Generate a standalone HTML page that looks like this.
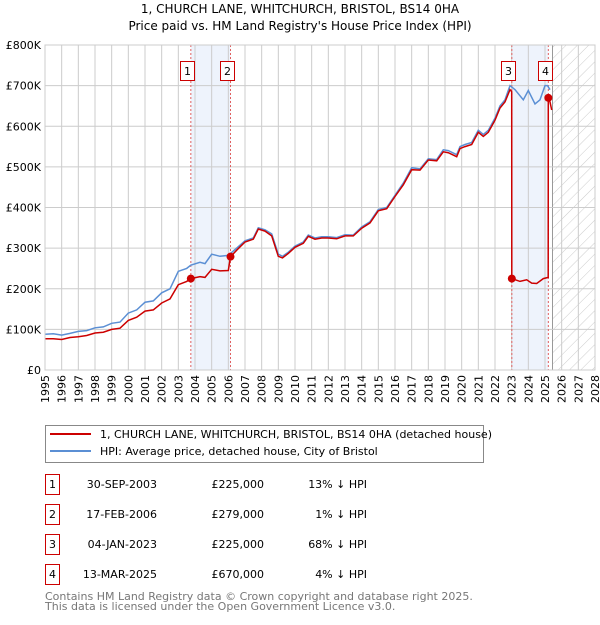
<!DOCTYPE html>
<html><head><meta charset="utf-8"><style>
body{margin:0;background:#fff;width:600px;height:620px;overflow:hidden;font-family:"Liberation Sans","DejaVu Sans",sans-serif}
svg text{font-family:"DejaVu Sans","Liberation Sans",sans-serif}
</style></head><body>
<svg id="c" width="600" height="620" xmlns="http://www.w3.org/2000/svg">
<defs><pattern id="hatch" width="8" height="8" patternUnits="userSpaceOnUse" patternTransform="rotate(45)"><line x1="0" y1="0" x2="0" y2="8" stroke="#ccc" stroke-width="1"/></pattern></defs>
<text x="300" y="13" text-anchor="middle" font-size="12">1, CHURCH LANE, WHITCHURCH, BRISTOL, BS14 0HA</text>
<text x="300" y="30" text-anchor="middle" font-size="12">Price paid vs. HM Land Registry's House Price Index (HPI)</text>
<g id="plot"></g>
<g>
<rect x="45.5" y="425.5" width="438" height="37" fill="#fff" stroke="#888"/>
<line x1="50" y1="434" x2="91" y2="434" stroke="#cc0000" stroke-width="2"/>
<text x="100" y="438" font-size="11">1, CHURCH LANE, WHITCHURCH, BRISTOL, BS14 0HA (detached house)</text>
<line x1="50" y1="451" x2="91" y2="451" stroke="#5b8fd4" stroke-width="2"/>
<text x="100" y="455" font-size="11">HPI: Average price, detached house, City of Bristol</text>
</g>
<g id="table" font-size="11"></g>
<text x="45" y="600" font-size="11" fill="#777">Contains HM Land Registry data © Crown copyright and database right 2025.</text>
<text x="45" y="610" font-size="11" fill="#777">This data is licensed under the Open Government Licence v3.0.</text>
</svg>
<script>
const hpiYears=[1995,1995.5,1996,1996.5,1997,1997.5,1998,1998.5,1999,1999.5,2000,2000.5,2001,2001.5,2002,2002.5,2003,2003.5,2003.75,2004.3,2004.6,2005,2005.5,2006,2006.5,2007,2007.5,2007.8,2008.2,2008.6,2009,2009.25,2009.6,2010,2010.5,2010.8,2011.2,2011.6,2012,2012.5,2013,2013.5,2014,2014.5,2015,2015.5,2016,2016.5,2017,2017.5,2018,2018.5,2018.9,2019.2,2019.7,2019.9,2020.2,2020.6,2021,2021.3,2021.6,2022,2022.3,2022.6,2022.9,2023.2,2023.7,2024.0,2024.4,2024.7,2025.0,2025.15,2025.3];
const hpiValues=[88,89,86,90,95,97,104,106,115,118,140,148,167,170,190,200,243,250,258,265,262,285,280,282,300,318,325,350,345,335,285,280,290,305,315,332,325,328,328,326,333,332,352,365,395,400,430,460,498,495,520,518,542,540,530,550,555,560,590,580,590,620,650,665,700,690,665,688,655,665,700,700,690];
const redYears=[1995,1995.5,1996,1996.5,1997,1997.5,1998,1998.5,1999,1999.5,2000,2000.5,2001,2001.5,2002,2002.5,2003,2003.5,2003.75,2004.3,2004.6,2005,2005.5,2006,2006.13,2006.5,2007,2007.5,2007.8,2008.2,2008.6,2009,2009.25,2009.6,2010,2010.5,2010.8,2011.2,2011.6,2012,2012.5,2013,2013.5,2014,2014.5,2015,2015.5,2016,2016.5,2017,2017.5,2018,2018.5,2018.9,2019.2,2019.7,2019.9,2020.2,2020.6,2021,2021.3,2021.6,2022,2022.3,2022.6,2022.9,2023.0,2023.01,2023.5,2023.9,2024.2,2024.5,2024.9,2025.19,2025.2,2025.3,2025.4];
const redValues=[77,77,75,80,82,85,91,93,100,103,122,130,145,148,165,175,210,218,225,230,228,248,244,245,279,295,315,322,347,342,330,280,276,287,302,312,329,322,325,325,323,330,330,349,362,392,397,427,456,493,492,517,515,537,535,525,545,550,555,585,575,585,615,645,660,690,685,225,218,222,214,213,225,228,670,660,640];
const saleYears=[2003.75,2006.13,2023.01,2025.2];
const salePrices=[225,279,225,670];
const saleLabels=["1","2","3","4"];
const saleDates=["30-SEP-2003","17-FEB-2006","04-JAN-2023","13-MAR-2025"];
const salePriceText=["£225,000","£279,000","£225,000","£670,000"];
const saleHpiText=["13% ↓ HPI","1% ↓ HPI","68% ↓ HPI","4% ↓ HPI"];
const yTicks=[0,100,200,300,400,500,600,700,800];
const yTickLabels=["£0","£100K","£200K","£300K","£400K","£500K","£600K","£700K","£800K"];
const xTickYears=[1995,1996,1997,1998,1999,2000,2001,2002,2003,2004,2005,2006,2007,2008,2009,2010,2011,2012,2013,2014,2015,2016,2017,2018,2019,2020,2021,2022,2023,2024,2025,2026,2027,2028];

const L=45,R=595,T=45,B=370;
const xs=y=>L+(y-1995)/(2028-1995)*(R-L);
const ys=v=>B-v/800*(B-T);
const NS='http://www.w3.org/2000/svg';
const g=document.getElementById('plot');
function mk(tag,attrs,parent){const e=document.createElementNS(NS,tag);for(const k in attrs)e.setAttribute(k,attrs[k]);(parent||g).appendChild(e);return e;}

let e=mk('rect',{x:xs(saleYears[0]),y:T,width:xs(saleYears[1])-xs(saleYears[0]),height:B-T,fill:'#eef3fc'});


e=mk('rect',{x:xs(saleYears[2]),y:T,width:xs(saleYears[3])-xs(saleYears[2]),height:B-T,fill:'#eef3fc'});


e=mk('rect',{x:xs(2025.45),y:T,width:R-xs(2025.45),height:B-T,fill:'url(#hatch)'});


mk('line',{x1:xs(2025.45),x2:xs(2025.45),y1:T,y2:B,stroke:'#999','stroke-width':1});

xTickYears.forEach(yr=>{
  mk('line',{x1:xs(yr),x2:xs(yr),y1:T,y2:B,stroke:'#ccc','stroke-width':1});
  const t=mk('text',{x:0,y:0,'font-size':11,'text-anchor':'end',transform:`translate(${xs(yr)+4},${B+5}) rotate(-90)`});
  t.textContent=yr;
  
  
});
yTicks.forEach((v,i)=>{
  mk('line',{x1:L,x2:R,y1:ys(v),y2:ys(v),stroke:'#ccc','stroke-width':1});
  const t=mk('text',{x:L-4,y:ys(v)+4,'font-size':11,'text-anchor':'end'});
  t.textContent=yTickLabels[i];
  
  
});
saleYears.forEach((yr,i)=>{
  mk('line',{x1:xs(yr),x2:xs(yr),y1:T,y2:B,stroke:'#e06060','stroke-width':1,'stroke-dasharray':'2,2'});
});
const path=(xsA,vs)=>xsA.map((x,i)=>(i?'L':'M')+xs(x).toFixed(1)+','+ys(vs[i]).toFixed(1)).join('');
e=mk('path',{d:path(hpiYears,hpiValues),fill:'none',stroke:'#5b8fd4','stroke-width':1.5});


e=mk('path',{d:path(redYears,redValues),fill:'none',stroke:'#cc0000','stroke-width':1.5});


saleYears.forEach((yr,i)=>{
  const c=mk('circle',{cx:xs(yr),cy:ys(salePrices[i]),r:4,fill:'#cc0000'});
  
  
  const x0=Math.round(xs(yr)-10.5);
  const r=mk('rect',{x:x0+0.5,y:61.5,width:14,height:19,fill:'#fff',stroke:'#cc0000'});
  
  
  const t=mk('text',{x:x0+7.5,y:75,'font-size':11,'text-anchor':'middle'});
  t.textContent=saleLabels[i];
  
  
});
mk('rect',{x:L,y:T,width:R-L,height:B-T,fill:'none',stroke:'#ccc'});

const tb=document.getElementById('table');
saleLabels.forEach((lab,i)=>{
  const y=483+i*30;
  const r=mk('rect',{x:45.5,y:y-8.5,width:14,height:20,fill:'#fff',stroke:'#cc0000'},tb);
  
  
  let t=mk('text',{x:52.5,y:y+5,'text-anchor':'middle'},tb);t.textContent=lab;
  
  
  t=mk('text',{x:157,y:y+5,'text-anchor':'end'},tb);t.textContent=saleDates[i];
  
  
  t=mk('text',{x:264,y:y+5,'text-anchor':'end'},tb);t.textContent=salePriceText[i];
  
  
  t=mk('text',{x:367,y:y+5,'text-anchor':'end'},tb);t.textContent=saleHpiText[i];
  
  
});
</script>
</body></html>
